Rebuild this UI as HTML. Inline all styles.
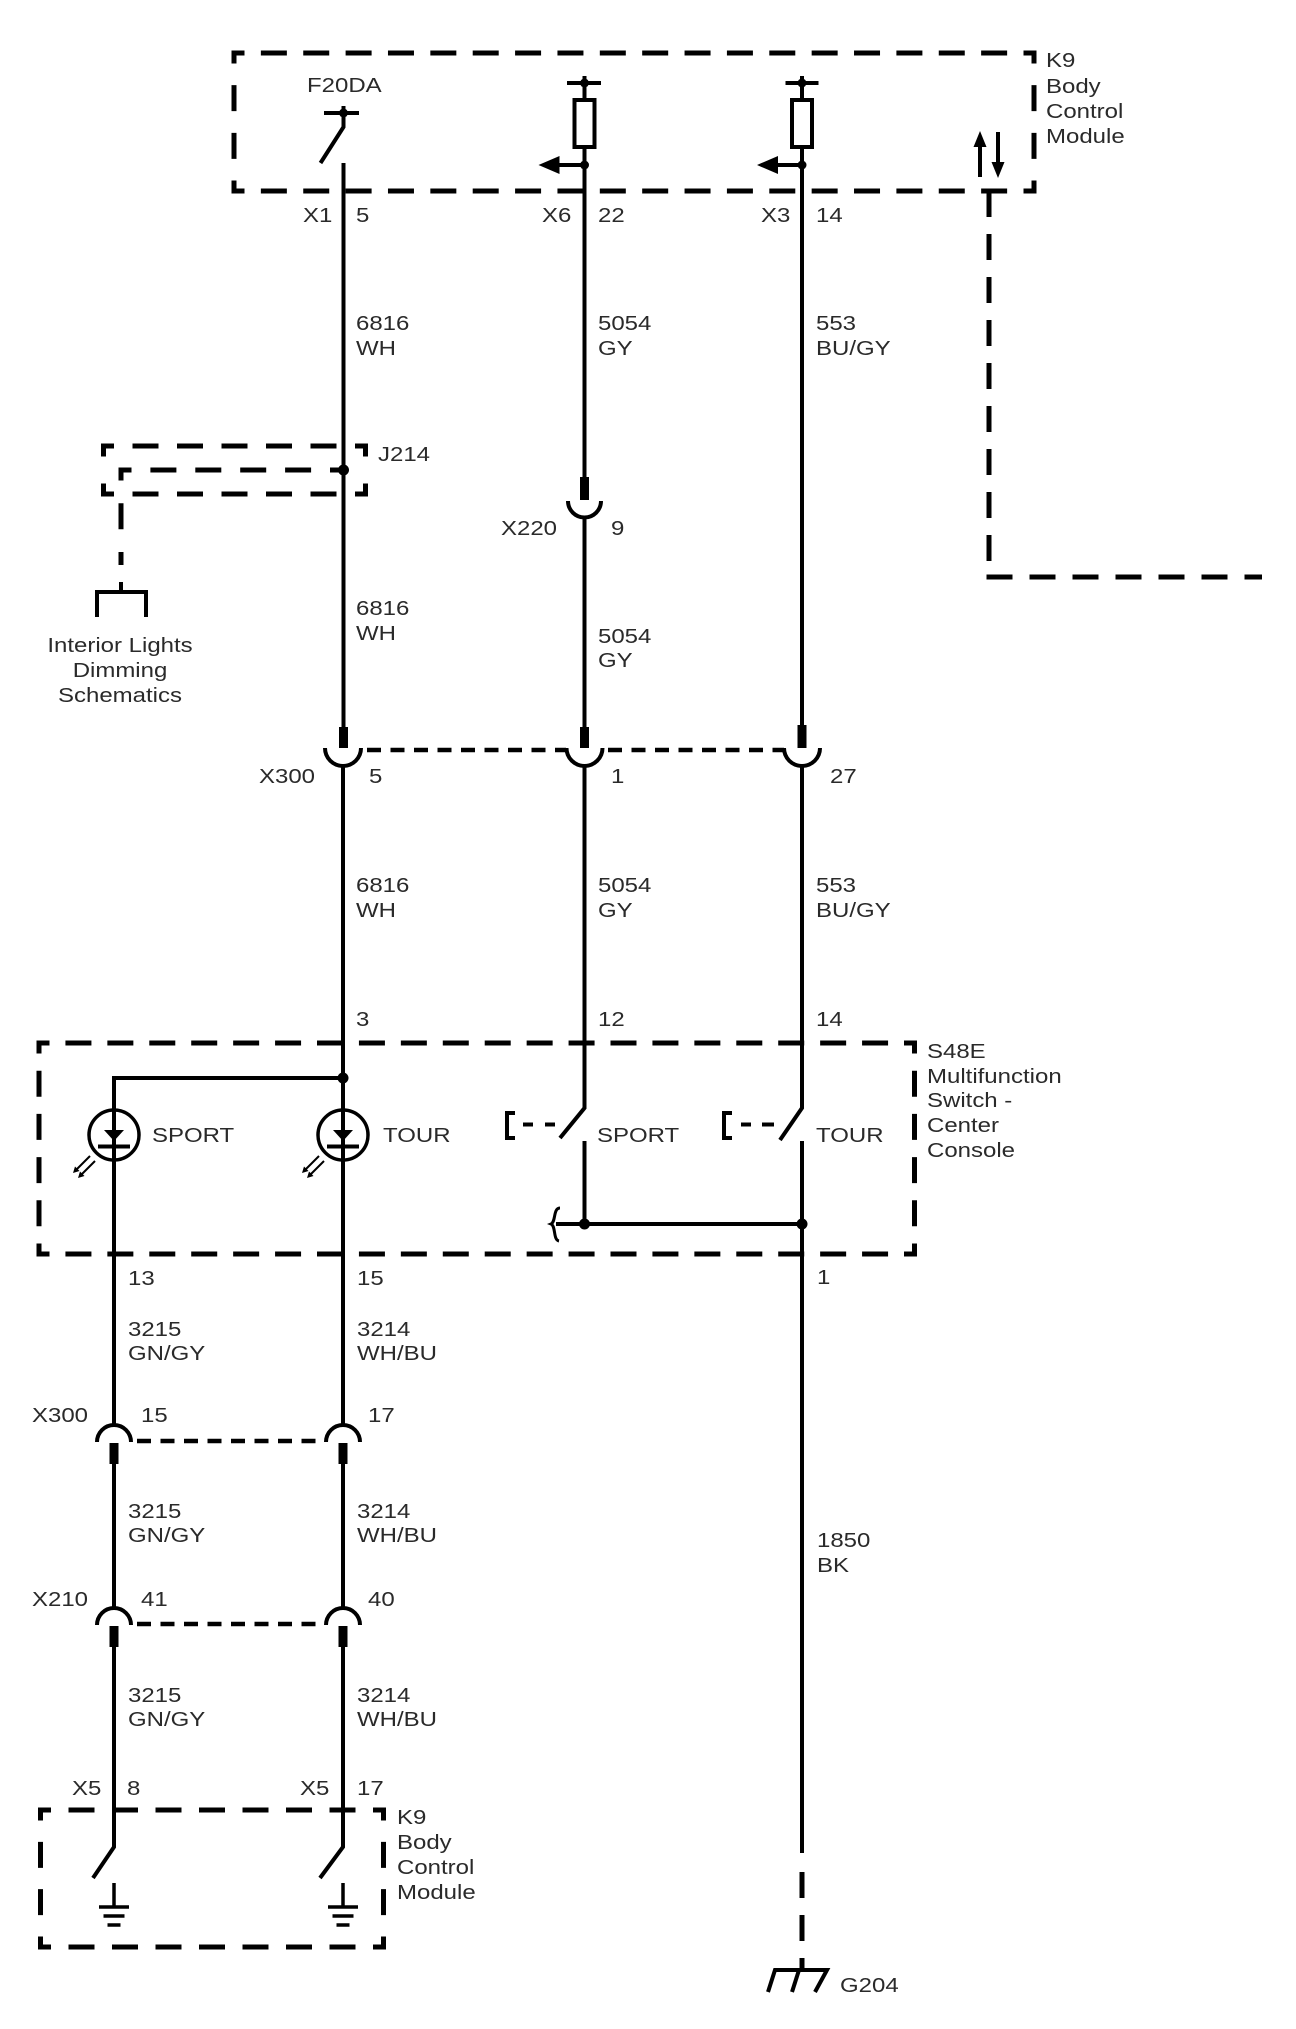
<!DOCTYPE html>
<html>
<head>
<meta charset="utf-8">
<style>
html,body{margin:0;padding:0;background:#fff;}
svg{display:block;}
.w{stroke:#000;stroke-width:4;fill:none;stroke-linejoin:miter;}
.d{stroke:#000;stroke-width:5;fill:none;stroke-dasharray:26 16;stroke-dashoffset:13;}
.ds{stroke:#000;stroke-width:5;fill:none;stroke-dasharray:26 17;}
.c{stroke:#000;stroke-width:4.5;fill:none;stroke-dasharray:14 9.5;}
.t{stroke:#000;stroke-width:3.5;fill:none;}
text{font-family:"Liberation Sans",Arial,sans-serif;font-size:20px;fill:#2a2a2a;}
</style>
</head>
<body>
<svg xmlns="http://www.w3.org/2000/svg" width="1296" height="2029" viewBox="0 0 1296 2029">
<rect x="0" y="0" width="1296" height="2029" fill="#fff"/>

<!-- ===== Upper K9 box ===== -->
<line class="d" x1="231.5" y1="53" x2="1036.5" y2="53"/>
<line class="d" x1="231.5" y1="191" x2="1036.5" y2="191"/>
<line class="d" x1="234" y1="50.5" x2="234" y2="193.5"/>
<line class="d" x1="1034" y1="50.5" x2="1034" y2="193.5"/>

<!-- K9 data line -->
<line class="ds" x1="989" y1="191" x2="989" y2="579.5"/>
<line class="ds" x1="986.5" y1="577" x2="1262" y2="577"/>

<!-- up/down arrows -->
<line class="w" x1="980" y1="177" x2="980" y2="144" stroke-width="3.5"/>
<polygon points="980,131 973.5,147 986.5,147" fill="#000"/>
<line class="w" x1="998" y1="132" x2="998" y2="165" stroke-width="3.5"/>
<polygon points="998,178 991.5,162 1004.5,162" fill="#000"/>

<!-- ===== Wire 1 (x=343) ===== -->
<line class="w" x1="324" y1="113" x2="359" y2="113"/>
<line class="w" x1="343.5" y1="106" x2="343.5" y2="113"/>
<circle cx="343.5" cy="113" r="4.5" fill="#000"/>
<path class="w" d="M343.5,113 V127 L320.5,163"/>
<line class="w" x1="343.5" y1="163" x2="343.5" y2="728"/>
<rect x="339" y="727" width="9" height="21" fill="#000"/>
<path class="w" d="M325,748 A18,18 0 0 0 361,748"/>
<path class="w" d="M343,766 V1078 H114 V1425"/>
<line class="w" x1="343" y1="1078" x2="343" y2="1425"/>
<circle cx="343" cy="1078" r="5.5" fill="#000"/>
<circle cx="343.5" cy="470" r="5.5" fill="#000"/>

<!-- ===== Wire 2 (x=584.5) ===== -->
<line class="w" x1="567" y1="83" x2="601" y2="83"/>
<line class="w" x1="584.5" y1="76" x2="584.5" y2="83"/>
<circle cx="584.5" cy="83" r="4.5" fill="#000"/>
<line class="w" x1="584.5" y1="83" x2="584.5" y2="100"/>
<rect x="574.5" y="100" width="20" height="47" fill="#fff" stroke="#000" stroke-width="4"/>
<line class="w" x1="584.5" y1="147" x2="584.5" y2="478"/>
<line class="w" x1="584.5" y1="165" x2="557" y2="165"/>
<polygon points="538.5,165 559.5,156 559.5,174" fill="#000"/>
<circle cx="584.5" cy="165" r="4.5" fill="#000"/>
<rect x="580" y="477" width="9" height="23" fill="#000"/>
<path class="w" d="M568,501 A16.5,16.5 0 0 0 601,501"/>
<line class="w" x1="584.5" y1="516" x2="584.5" y2="728"/>
<rect x="580" y="727" width="9" height="21" fill="#000"/>
<path class="w" d="M566.5,748 A18,18 0 0 0 602.5,748"/>
<path class="w" d="M584.5,766 V1108 L560,1138"/>
<line class="w" x1="584.5" y1="1141" x2="584.5" y2="1224"/>

<!-- ===== Wire 3 (x=802) ===== -->
<line class="w" x1="785.5" y1="83" x2="818.5" y2="83"/>
<line class="w" x1="802" y1="76" x2="802" y2="83"/>
<circle cx="802" cy="83" r="4.5" fill="#000"/>
<line class="w" x1="802" y1="83" x2="802" y2="100"/>
<rect x="792" y="100" width="20" height="47" fill="#fff" stroke="#000" stroke-width="4"/>
<line class="w" x1="802" y1="147" x2="802" y2="728"/>
<line class="w" x1="802" y1="165" x2="776" y2="165"/>
<polygon points="757,165 778,156 778,174" fill="#000"/>
<circle cx="802" cy="165" r="4.5" fill="#000"/>
<rect x="797.5" y="725" width="9" height="23" fill="#000"/>
<path class="w" d="M784,748 A18,18 0 0 0 820,748"/>
<path class="w" d="M802,766 V1108 L780,1140"/>
<line class="w" x1="802" y1="1141" x2="802" y2="1853"/>
<line class="ds" x1="802" y1="1872" x2="802" y2="1970" stroke-width="4.5"/>
<path class="w" d="M768,1992 L775,1970 H827 L815,1992"/>
<line class="w" x1="799" y1="1970" x2="792" y2="1992"/>

<!-- X300 upper dashed link -->
<line class="c" x1="367" y1="750" x2="566" y2="750"/>
<line class="c" x1="608" y1="750" x2="784" y2="750"/>

<!-- ===== J214 ===== -->
<line class="d" x1="101" y1="446" x2="368" y2="446"/>
<line class="d" x1="101" y1="494" x2="368" y2="494"/>
<line class="d" x1="103.5" y1="443.5" x2="103.5" y2="496.5"/>
<line class="d" x1="365.5" y1="443.5" x2="365.5" y2="496.5"/>
<line class="d" x1="343" y1="470" x2="118.5" y2="470"/>
<line class="d" x1="121" y1="467.5" x2="121" y2="565"/>
<path class="w" d="M121,582 V592 M97,617 V592 H146 V617"/>

<!-- ===== S48E box ===== -->
<line class="d" x1="36.5" y1="1043" x2="917" y2="1043"/>
<line class="d" x1="36.5" y1="1254" x2="917" y2="1254"/>
<line class="d" x1="39" y1="1040.5" x2="39" y2="1256.5"/>
<line class="d" x1="914.5" y1="1040.5" x2="914.5" y2="1256.5"/>

<!-- LEDs -->
<g id="led1">
<circle cx="114" cy="1135" r="25" class="t"/>
<polygon points="104,1130 124,1130 114,1141" fill="#000"/>
<line x1="98" y1="1146.5" x2="130" y2="1146.5" stroke="#000" stroke-width="4"/>
<path d="M90,1156 L76,1170 M95,1161 L81,1175" stroke="#000" stroke-width="2" fill="none"/>
<polygon points="73,1173 79.5,1171 75,1166.5" fill="#000"/>
<polygon points="78,1178 84.5,1176 80,1171.5" fill="#000"/>
</g>
<use href="#led1" x="229" y="0"/>

<!-- switches -->
<path class="w" d="M515,1113 H507 V1138 H515" stroke-width="3.5"/>
<path d="M523,1124.5 H533 M545,1124.5 H555" stroke="#000" stroke-width="4"/>
<path class="w" d="M732,1113 H724 V1138 H732" stroke-width="3.5"/>
<path d="M741,1124.5 H751 M762,1124.5 H774" stroke="#000" stroke-width="4"/>

<!-- bus -->
<line class="w" x1="556" y1="1224" x2="802" y2="1224"/>
<circle cx="584.5" cy="1224" r="5.5" fill="#000"/>
<circle cx="802" cy="1224" r="5.5" fill="#000"/>
<path d="M560,1208 C553,1208 556,1222 551,1224 C556,1226 553,1240 559,1241" stroke="#000" stroke-width="3" fill="none"/>

<!-- ===== Lower wires A (114) and B (343) ===== -->
<path class="w" d="M97,1442 A17,17 0 0 1 131,1442"/>
<path class="w" d="M326,1442 A17,17 0 0 1 360,1442"/>
<rect x="109.5" y="1443" width="9" height="21" fill="#000"/>
<rect x="338.5" y="1443" width="9" height="21" fill="#000"/>
<line class="c" x1="137" y1="1441" x2="322" y2="1441"/>
<line class="w" x1="114" y1="1463" x2="114" y2="1608"/>
<line class="w" x1="343" y1="1463" x2="343" y2="1608"/>
<path class="w" d="M97,1625 A17,17 0 0 1 131,1625"/>
<path class="w" d="M326,1625 A17,17 0 0 1 360,1625"/>
<rect x="109.5" y="1626" width="9" height="21" fill="#000"/>
<rect x="338.5" y="1626" width="9" height="21" fill="#000"/>
<line class="c" x1="137" y1="1624" x2="322" y2="1624"/>
<path class="w" d="M114,1646 V1847 L93,1878"/>
<path class="w" d="M343,1646 V1847 L320,1878"/>

<!-- lower K9 box -->
<line class="d" x1="38" y1="1810" x2="386" y2="1810"/>
<line class="d" x1="38" y1="1947" x2="386" y2="1947"/>
<line class="d" x1="40.5" y1="1807.5" x2="40.5" y2="1949.5"/>
<line class="d" x1="383.5" y1="1807.5" x2="383.5" y2="1949.5"/>

<!-- grounds -->
<path class="t" d="M114,1883 V1907 M99,1907 H129 M103.5,1916 H124.5 M107.5,1925 H120.5"/>
<path class="t" d="M343,1883 V1907 M328,1907 H358 M332.5,1916 H353.5 M336.5,1925 H349.5"/>

<!-- ===== Text ===== -->
<g>
<text transform="translate(307,92) scale(1.2,1)">F20DA</text>
<text transform="translate(1046,67) scale(1.2,1)">K9</text>
<text transform="translate(1046,93) scale(1.2,1)">Body</text>
<text transform="translate(1046,118) scale(1.2,1)">Control</text>
<text transform="translate(1046,143) scale(1.2,1)">Module</text>

<text transform="translate(303,222) scale(1.2,1)">X1</text>
<text transform="translate(356,222) scale(1.2,1)">5</text>
<text transform="translate(542,222) scale(1.2,1)">X6</text>
<text transform="translate(598,222) scale(1.2,1)">22</text>
<text transform="translate(761,222) scale(1.2,1)">X3</text>
<text transform="translate(816,222) scale(1.2,1)">14</text>

<text transform="translate(356,330) scale(1.2,1)">6816</text>
<text transform="translate(356,355) scale(1.2,1)">WH</text>
<text transform="translate(598,330) scale(1.2,1)">5054</text>
<text transform="translate(598,355) scale(1.2,1)">GY</text>
<text transform="translate(816,330) scale(1.2,1)">553</text>
<text transform="translate(816,355) scale(1.2,1)">BU/GY</text>

<text transform="translate(378,461) scale(1.2,1)">J214</text>
<text transform="translate(501,535) scale(1.2,1)">X220</text>
<text transform="translate(611,535) scale(1.2,1)">9</text>

<text transform="translate(356,615) scale(1.2,1)">6816</text>
<text transform="translate(356,640) scale(1.2,1)">WH</text>
<text transform="translate(598,643) scale(1.2,1)">5054</text>
<text transform="translate(598,667) scale(1.2,1)">GY</text>

<text text-anchor="middle" transform="translate(120,652) scale(1.2,1)">Interior Lights</text>
<text text-anchor="middle" transform="translate(120,677) scale(1.2,1)">Dimming</text>
<text text-anchor="middle" transform="translate(120,702) scale(1.2,1)">Schematics</text>

<text transform="translate(259,783) scale(1.2,1)">X300</text>
<text transform="translate(369,783) scale(1.2,1)">5</text>
<text transform="translate(611,783) scale(1.2,1)">1</text>
<text transform="translate(830,783) scale(1.2,1)">27</text>

<text transform="translate(356,892) scale(1.2,1)">6816</text>
<text transform="translate(356,917) scale(1.2,1)">WH</text>
<text transform="translate(598,892) scale(1.2,1)">5054</text>
<text transform="translate(598,917) scale(1.2,1)">GY</text>
<text transform="translate(816,892) scale(1.2,1)">553</text>
<text transform="translate(816,917) scale(1.2,1)">BU/GY</text>

<text transform="translate(356,1026) scale(1.2,1)">3</text>
<text transform="translate(598,1026) scale(1.2,1)">12</text>
<text transform="translate(816,1026) scale(1.2,1)">14</text>

<text transform="translate(927,1058) scale(1.2,1)">S48E</text>
<text transform="translate(927,1083) scale(1.2,1)">Multifunction</text>
<text transform="translate(927,1107) scale(1.2,1)">Switch -</text>
<text transform="translate(927,1132) scale(1.2,1)">Center</text>
<text transform="translate(927,1157) scale(1.2,1)">Console</text>

<text transform="translate(152,1142) scale(1.2,1)">SPORT</text>
<text transform="translate(383,1142) scale(1.2,1)">TOUR</text>
<text transform="translate(597,1142) scale(1.2,1)">SPORT</text>
<text transform="translate(816,1142) scale(1.2,1)">TOUR</text>

<text transform="translate(128,1285) scale(1.2,1)">13</text>
<text transform="translate(357,1285) scale(1.2,1)">15</text>
<text transform="translate(817,1284) scale(1.2,1)">1</text>

<text transform="translate(128,1336) scale(1.2,1)">3215</text>
<text transform="translate(128,1360) scale(1.2,1)">GN/GY</text>
<text transform="translate(357,1336) scale(1.2,1)">3214</text>
<text transform="translate(357,1360) scale(1.2,1)">WH/BU</text>

<text transform="translate(32,1422) scale(1.2,1)">X300</text>
<text transform="translate(141,1422) scale(1.2,1)">15</text>
<text transform="translate(368,1422) scale(1.2,1)">17</text>

<text transform="translate(128,1518) scale(1.2,1)">3215</text>
<text transform="translate(128,1542) scale(1.2,1)">GN/GY</text>
<text transform="translate(357,1518) scale(1.2,1)">3214</text>
<text transform="translate(357,1542) scale(1.2,1)">WH/BU</text>

<text transform="translate(817,1547) scale(1.2,1)">1850</text>
<text transform="translate(817,1572) scale(1.2,1)">BK</text>

<text transform="translate(32,1606) scale(1.2,1)">X210</text>
<text transform="translate(141,1606) scale(1.2,1)">41</text>
<text transform="translate(368,1606) scale(1.2,1)">40</text>

<text transform="translate(128,1702) scale(1.2,1)">3215</text>
<text transform="translate(128,1726) scale(1.2,1)">GN/GY</text>
<text transform="translate(357,1702) scale(1.2,1)">3214</text>
<text transform="translate(357,1726) scale(1.2,1)">WH/BU</text>

<text transform="translate(72,1795) scale(1.2,1)">X5</text>
<text transform="translate(127,1795) scale(1.2,1)">8</text>
<text transform="translate(300,1795) scale(1.2,1)">X5</text>
<text transform="translate(357,1795) scale(1.2,1)">17</text>

<text transform="translate(397,1824) scale(1.2,1)">K9</text>
<text transform="translate(397,1849) scale(1.2,1)">Body</text>
<text transform="translate(397,1874) scale(1.2,1)">Control</text>
<text transform="translate(397,1899) scale(1.2,1)">Module</text>

<text transform="translate(840,1992) scale(1.2,1)">G204</text>
</g>
</svg>
<script>
(function(){
  var ls=document.querySelectorAll('line.d');
  for(var i=0;i<ls.length;i++){
    var l=ls[i];
    var x1=+l.getAttribute('x1'),y1=+l.getAttribute('y1'),x2=+l.getAttribute('x2'),y2=+l.getAttribute('y2');
    var L=Math.sqrt((x2-x1)*(x2-x1)+(y2-y1)*(y2-y1));
    var d=26,g0=16;
    var n=Math.max(0,Math.round((L-d-g0)/(d+g0)));
    var g=(L-d-n*d)/(n+1);
    if(g<4){g=4;}
    l.style.strokeDasharray=d+' '+g;
    l.style.strokeDashoffset='13';
  }
})();
</script>
</body>
</html>
